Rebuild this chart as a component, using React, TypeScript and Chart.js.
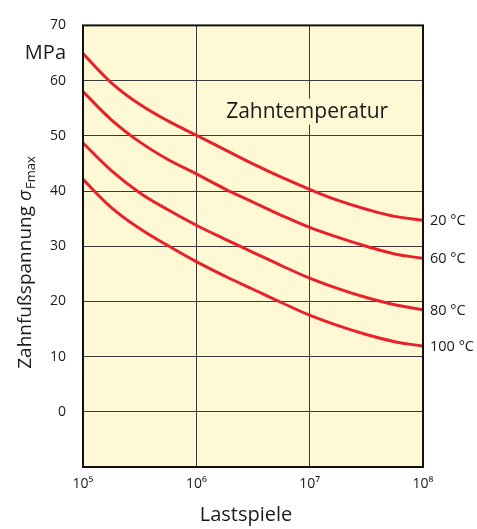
import React, { useEffect, useRef } from 'react';
import { Chart, registerables } from 'chart.js';

Chart.register(...registerables);

// Lastspiele (load cycles), quarter-decade steps
const cycles = [1e5, 1.78e5, 3.16e5, 5.62e5, 1e6, 1.78e6, 3.16e6, 5.62e6, 1e7, 1.78e7, 3.16e7, 5.62e7, 1e8];
// Zahnfußspannung in MPa for each Zahntemperatur
const temps = ['20 °C', '60 °C', '80 °C', '100 °C'];
const stress20 = [64.9, 59.6, 55.7, 52.7, 50.1, 47.5, 44.9, 42.5, 40.3, 38.3, 36.7, 35.4, 34.7];
const stress60 = [58.0, 52.9, 48.9, 45.7, 43.1, 40.4, 38.0, 35.6, 33.4, 31.6, 30.0, 28.6, 27.8];
const stress80 = [48.7, 43.7, 39.7, 36.6, 33.8, 31.3, 28.9, 26.5, 24.2, 22.3, 20.7, 19.4, 18.5];
const stress100 = [42.1, 37.0, 33.2, 30.1, 27.2, 24.6, 22.2, 19.8, 17.5, 15.6, 14.0, 12.7, 11.9];
const series = [stress20, stress60, stress80, stress100];

const xTickValues = [1e5, 1e6, 1e7, 1e8];
const xTickLabels = ['10⁵', '10⁶', '10⁷', '10⁸'];
const yMin = -10;
const yMax = 70;
const yUnitAt = 65;
const yUnit = 'MPa';
const xTitle = 'Lastspiele';
const annotation = 'Zahntemperatur';

const FONT = '"Open Sans", "Noto Sans", sans-serif';
const RED = '#e8212b';
const PLOT_BG = '#fef9d4';
const GRID = '#3a3a3a';
const TEXT = '#1a1a1a';

const decor = {
  id: 'decor',
  beforeDraw(chart: any) {
    const { ctx, chartArea: a } = chart;
    ctx.save();
    ctx.fillStyle = PLOT_BG;
    ctx.fillRect(a.left, a.top, a.right - a.left, a.bottom - a.top);
    ctx.restore();
  },
  afterDraw(chart: any) {
    const { ctx, chartArea: a, scales } = chart;
    const xs = scales.x;
    const ys = scales.y;
    ctx.save();
    // annotation "Zahntemperatur"
    ctx.font = `21px ${FONT}`;
    const aw = ctx.measureText(annotation).width;
    const ax = xs.getPixelForValue(9.5e6);
    const ay = ys.getPixelForValue(53.3);
    ctx.fillStyle = PLOT_BG;
    ctx.fillRect(ax - aw / 2 - 3, ay - 19, aw + 6, 26);
    ctx.fillStyle = TEXT;
    ctx.textAlign = 'center';
    ctx.textBaseline = 'alphabetic';
    ctx.fillText(annotation, ax, ay);

    // border
    ctx.strokeStyle = '#111';
    ctx.lineWidth = 2;
    ctx.strokeRect(a.left, a.top, a.right - a.left, a.bottom - a.top);

    // curve end labels
    ctx.font = `14.5px ${FONT}`;
    ctx.textAlign = 'left';
    ctx.textBaseline = 'middle';
    ctx.fillStyle = TEXT;
    chart.data.datasets.forEach((ds: any, i: number) => {
      const meta = chart.getDatasetMeta(i);
      const last = meta.data[meta.data.length - 1];
      ctx.fillText(temps[i], a.right + 7, last.y + 1);
    });

    // x axis title
    ctx.font = `20px ${FONT}`;
    ctx.textAlign = 'center';
    ctx.textBaseline = 'alphabetic';
    ctx.fillText(xTitle, 246, 521);

    // y axis title with subscript
    const main = 'Zahnfußspannung ';
    const sigma = 'σ';
    const sub = 'Fmax';
    const mainFont = `19px ${FONT}`;
    const sigFont = `italic 19px ${FONT}`;
    const subFont = `13px ${FONT}`;
    ctx.font = mainFont;
    const w1 = ctx.measureText(main).width;
    ctx.font = sigFont;
    const w2 = ctx.measureText(sigma).width;
    ctx.font = subFont;
    const w3 = ctx.measureText(sub).width;
    const total = w1 + w2 + w3;
    ctx.translate(31, 263);
    ctx.rotate(-Math.PI / 2);
    ctx.textAlign = 'left';
    ctx.textBaseline = 'alphabetic';
    let x = -total / 2;
    ctx.font = mainFont;
    ctx.fillText(main, x, 0);
    x += w1;
    ctx.font = sigFont;
    ctx.fillText(sigma, x, 0);
    x += w2 + 1;
    ctx.font = subFont;
    ctx.fillText(sub, x, 4);
    ctx.restore();
  },
};

export default function App() {
  const ref = useRef<HTMLCanvasElement | null>(null);
  useEffect(() => {
    if (!ref.current) return;
    const chart = new Chart(ref.current, {
      type: 'line',
      data: {
        datasets: series.map((vals, i) => ({
          label: temps[i],
          data: cycles.map((c, j) => ({ x: c, y: vals[j] })),
          borderColor: RED,
          borderWidth: 3,
          pointRadius: 0,
          fill: false,
          tension: 0.4,
          borderCapStyle: 'butt' as const,
        })),
      },
      options: {
        animation: false,
        responsive: false,
        maintainAspectRatio: false,
        layout: { padding: { left: 0, right: 54, top: 14, bottom: 0 } },
        plugins: {
          legend: { display: false },
          tooltip: { enabled: false },
        },
        scales: {
          x: {
            type: 'logarithmic',
            min: 1e5,
            max: 1e8,
            afterBuildTicks: (scale: any) => {
              scale.ticks = xTickValues.map((v) => ({ value: v }));
            },
            afterFit: (scale: any) => {
              scale.height = 62;
            },
            grid: { color: GRID, lineWidth: 1, drawTicks: false },
            border: { display: false },
            ticks: {
              autoSkip: false,
              maxRotation: 0,
              padding: 9,
              color: TEXT,
              font: { family: FONT, size: 14 },
              callback: (v: any) => {
                const i = xTickValues.indexOf(Number(v));
                return i >= 0 ? xTickLabels[i] : '';
              },
            },
            title: { display: false, text: xTitle },
          },
          y: {
            min: yMin,
            max: yMax,
            afterFit: (scale: any) => {
              scale.width = 83;
            },
            grid: {
              drawTicks: false,
              lineWidth: 1,
              color: (ctx: any) => {
                const v = ctx.tick ? ctx.tick.value : 0;
                return v % 10 === 0 && v !== yMin && v !== yMax ? GRID : 'rgba(0,0,0,0)';
              },
            },
            border: { display: false },
            ticks: {
              stepSize: 5,
              autoSkip: false,
              padding: 17,
              color: TEXT,
              font: (ctx: any) =>
                ctx.tick && ctx.tick.value === yUnitAt
                  ? { family: FONT, size: 20 }
                  : { family: FONT, size: 14 },
              callback: (v: any) => {
                const n = Number(v);
                if (n === yUnitAt) return yUnit;
                if (n % 10 !== 0 || n === yMin) return '';
                return String(n);
              },
            },
          },
        },
      },
      plugins: [decor],
    });
    return () => chart.destroy();
  }, []);
  return (
    <div style={{ position: 'fixed', left: 0, top: 0, width: 477, height: 529, background: '#fff' }}>
      <canvas ref={ref} width={477} height={529} style={{ width: 477, height: 529, display: 'block' }} />
    </div>
  );
}
